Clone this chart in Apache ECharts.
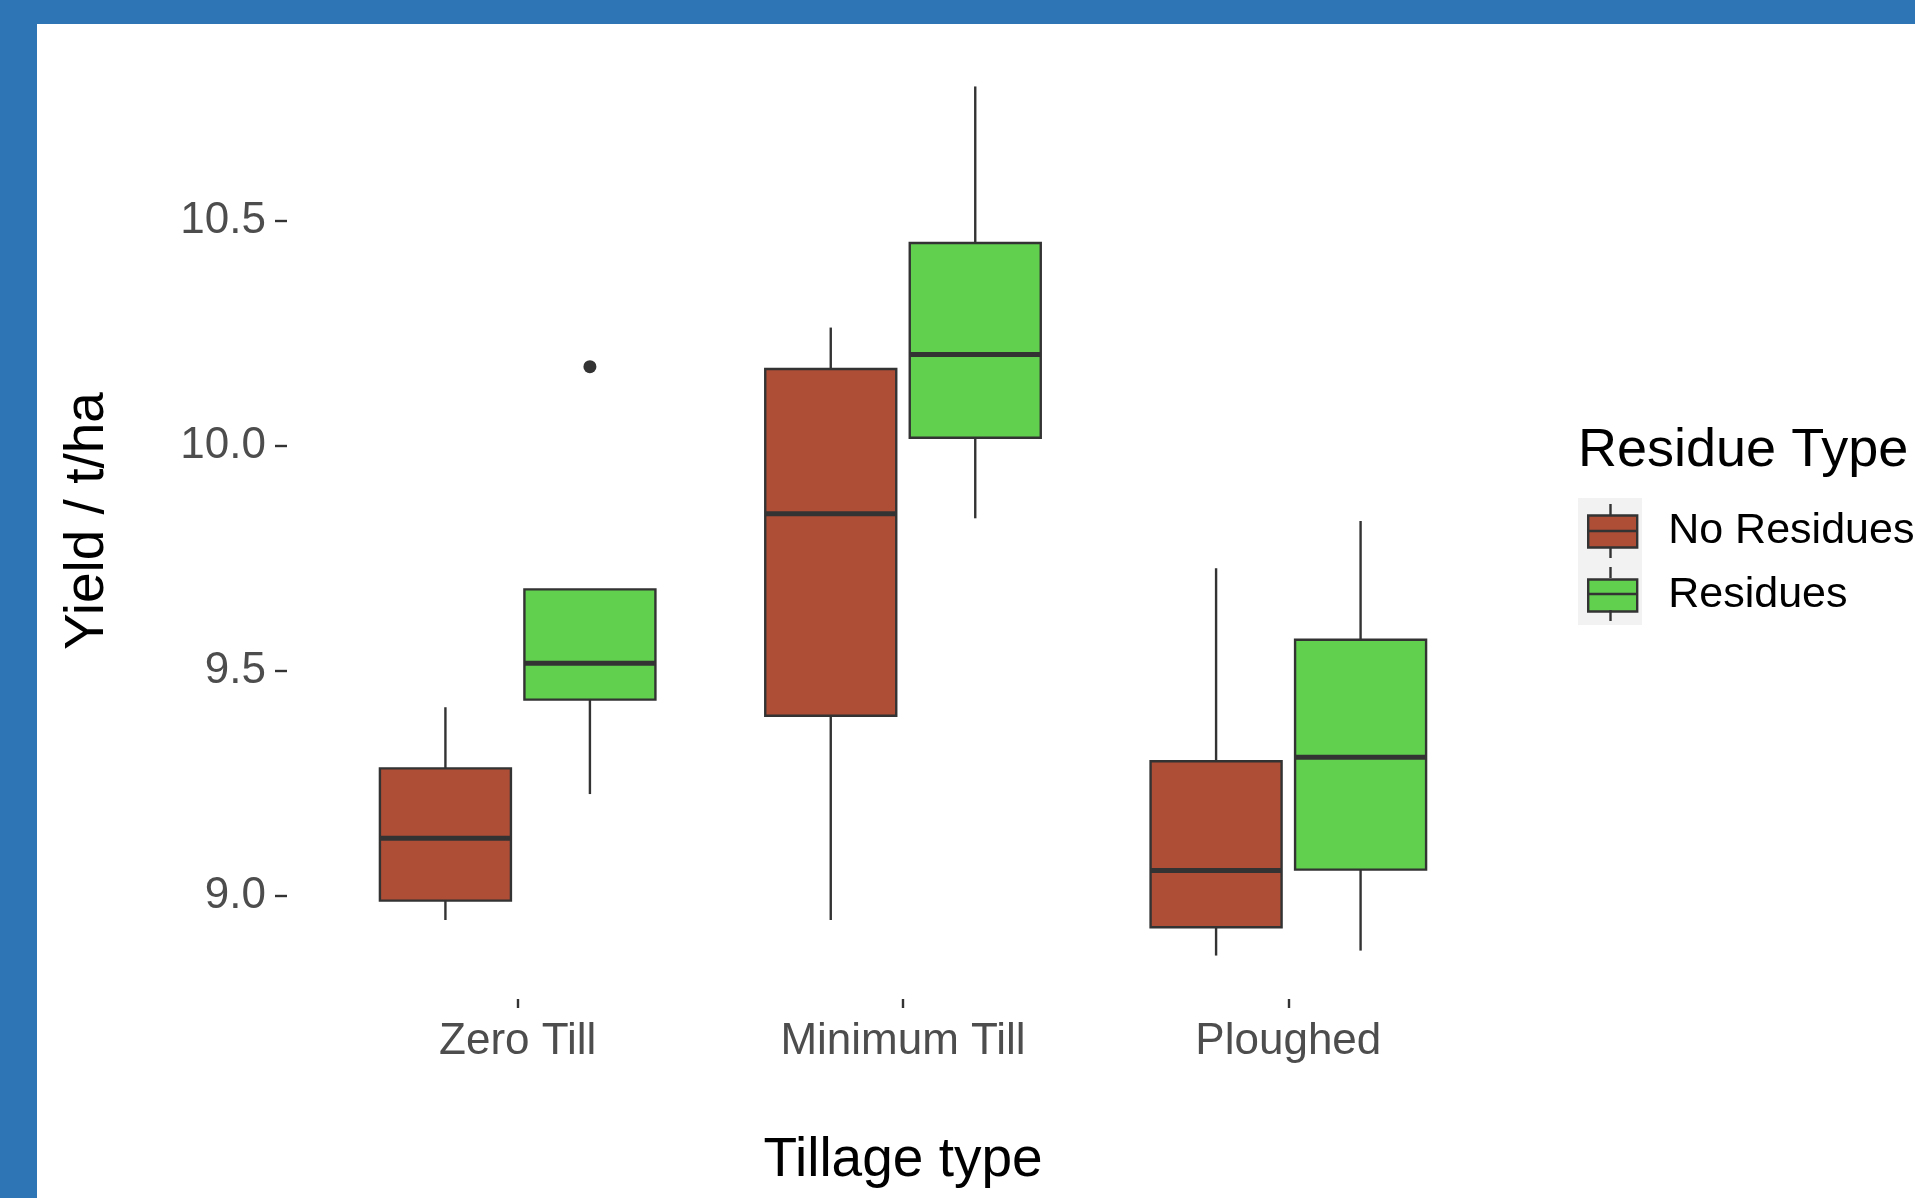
<!DOCTYPE html>
<html>
<head>
<meta charset="utf-8">
<script src="https://cdn.jsdelivr.net/npm/echarts@6/dist/echarts.min.js"></script>
<style>
  html, body { margin: 0; padding: 0; background: #ffffff; }
  #chart { width: 1915px; height: 1198px; }
</style>
</head>
<body>
<div id="chart"></div>
<script>
// Tillage treatments on the x axis
const categories = ['Zero Till', 'Minimum Till', 'Ploughed'];
const seriesNames = ['No Residues', 'Residues'];

// Five-number summaries per tillage type: [lower whisker, Q1, median, Q3, upper whisker]
const noResidues = [
  [8.946, 8.989, 9.128, 9.283, 9.419],
  [8.946, 9.400, 9.849, 10.171, 10.263],
  [8.867, 8.930, 9.056, 9.299, 9.728]
];
const residues = [
  [9.226, 9.436, 9.517, 9.681, 9.681],
  [9.839, 10.018, 10.203, 10.451, 10.799],
  [8.878, 9.058, 9.308, 9.569, 9.833]
];
// Outlying observations: [category index, yield]
const residueOutliers = [[0, 10.176]];

// Y axis tick positions
const yTicks = [9.0, 9.5, 10.0, 10.5];

const FONT = '"Liberation Sans", Arial, Helvetica, sans-serif';
const FILLS = ['#AF4E37', '#61D04F'];
const EDGE = '#333333';
const DODGE = 0.1875;   // box centre offset, as a fraction of the category band
const BOX = 0.34;       // box width, as a fraction of the category band

// y range padded by 5% of the data span on each side
const allValues = noResidues.flat().concat(residues.flat(), residueOutliers.map(o => o[1]));
const dataLo = Math.min.apply(null, allValues);
const dataHi = Math.max.apply(null, allValues);
const pad = 0.05 * (dataHi - dataLo);
const yMin = dataLo - pad;
const yMax = dataHi + pad;

function toRows(stats) {
  return stats.map((s, i) => [i].concat(s));
}

function segment(x1, y1, x2, y2, w) {
  return { type: 'line', shape: { x1, y1, x2, y2 }, style: { stroke: EDGE, lineWidth: w } };
}

function boxRenderer(side, fill) {
  return function (params, api) {
    const ci = api.value(0);
    const band = api.size([1, 0])[0];
    const cx = api.coord([ci, yMin])[0] + side * DODGE * band;
    const hw = BOX * band / 2;
    const y = k => api.coord([ci, api.value(k)])[1];
    const yLo = y(1), yQ1 = y(2), yMed = y(3), yQ3 = y(4), yHi = y(5);
    return {
      type: 'group',
      children: [
        segment(cx, yHi, cx, yQ3, 2.4),
        segment(cx, yQ1, cx, yLo, 2.4),
        {
          type: 'rect',
          shape: { x: cx - hw, y: yQ3, width: 2 * hw, height: yQ1 - yQ3 },
          style: { fill: fill, stroke: EDGE, lineWidth: 2.4 }
        },
        segment(cx - hw, yMed, cx + hw, yMed, 5)
      ]
    };
  };
}

function outlierRenderer(side) {
  return function (params, api) {
    const ci = api.value(0);
    const band = api.size([1, 0])[0];
    const p = api.coord([ci, api.value(1)]);
    return {
      type: 'circle',
      shape: { cx: p[0] + side * DODGE * band, cy: p[1], r: 6.5 },
      style: { fill: EDGE }
    };
  };
}

// Legend key glyph pieces (whiskers, medians, key background)
const KEY_X = 1610.5, KEY_L = 1587, KEY_R = 1636;
const keyTops = [515, 578];
const keyH = 32;
const legendGraphics = [
  { type: 'rect', z: 1, shape: { x: 1578, y: 498, width: 64, height: 127 }, style: { fill: '#F2F2F2' } }
];
keyTops.forEach(t => {
  legendGraphics.push(Object.assign(segment(KEY_X, t - 11, KEY_X, t, 2.4), { z: 10 }));
  legendGraphics.push(Object.assign(segment(KEY_X, t + keyH, KEY_X, t + keyH + 11, 2.4), { z: 10 }));
  legendGraphics.push(Object.assign(segment(KEY_L, t + keyH / 2, KEY_R, t + keyH / 2, 2.4), { z: 10 }));
});

const chart = echarts.init(document.getElementById('chart'), null, { renderer: 'canvas' });

chart.setOption({
  backgroundColor: '#ffffff',
  animation: false,
  textStyle: { fontFamily: FONT },
  title: {
    text: 'Residue Type',
    left: 1573,
    top: 419,
    textStyle: { fontFamily: FONT, fontSize: 54, fontWeight: 'normal', color: '#000000' }
  },
  legend: {
    orient: 'vertical',
    left: 1582,
    top: 505,
    itemWidth: 49,
    itemHeight: 32,
    itemGap: 21,
    icon: 'rect',
    selectedMode: false,
    data: seriesNames.map((n, i) => ({
      name: n,
      itemStyle: { color: FILLS[i], borderColor: EDGE, borderWidth: 2.4 }
    })),
    textStyle: {
      fontFamily: FONT, fontSize: 43, color: '#000000',
      padding: [0, 0, 0, 26]
    }
  },
  graphic: [
    { type: 'rect', z: 100, shape: { x: 0, y: 0, width: 1915, height: 24 }, style: { fill: '#2E75B6' } },
    { type: 'rect', z: 100, shape: { x: 0, y: 0, width: 37, height: 1198 }, style: { fill: '#2E75B6' } }
  ].concat(legendGraphics),
  grid: {
    left: 325,
    top: 43,
    width: 1156,
    height: 956,
    containLabel: false,
    outerBoundsMode: 'none'
  },
  xAxis: {
    type: 'category',
    data: categories,
    boundaryGap: true,
    axisLine: { show: false },
    axisTick: { show: true, alignWithLabel: true, length: 9, lineStyle: { color: EDGE, width: 2.4 } },
    axisLabel: { margin: 21, fontSize: 44, color: '#4D4D4D', fontFamily: FONT },
    splitLine: { show: false },
    name: 'Tillage type',
    nameLocation: 'middle',
    nameGap: 134,
    nameTextStyle: { fontSize: 55, color: '#000000', fontFamily: FONT }
  },
  yAxis: {
    type: 'value',
    min: yMin,
    max: yMax,
    offset: 38,
    axisLine: { show: false },
    splitLine: { show: false },
    axisTick: { show: true, length: 12, customValues: yTicks, lineStyle: { color: EDGE, width: 2.4 } },
    axisLabel: {
      customValues: yTicks,
      formatter: v => Number(v).toFixed(1),
      margin: 21, fontSize: 44, color: '#4D4D4D', fontFamily: FONT
    },
    name: 'Yield / t/ha',
    nameLocation: 'middle',
    nameGap: 172,
    nameTextStyle: { fontSize: 55, color: '#000000', fontFamily: FONT }
  },
  series: [
    {
      name: seriesNames[0],
      type: 'custom',
      coordinateSystem: 'cartesian2d',
      itemStyle: { color: FILLS[0] },
      encode: { x: 0, y: [1, 2, 3, 4, 5] },
      renderItem: boxRenderer(-1, FILLS[0]),
      data: toRows(noResidues)
    },
    {
      name: seriesNames[1],
      type: 'custom',
      coordinateSystem: 'cartesian2d',
      itemStyle: { color: FILLS[1] },
      encode: { x: 0, y: [1, 2, 3, 4, 5] },
      renderItem: boxRenderer(1, FILLS[1]),
      data: toRows(residues)
    },
    {
      name: seriesNames[1],
      type: 'custom',
      coordinateSystem: 'cartesian2d',
      itemStyle: { color: FILLS[1] },
      encode: { x: 0, y: 1 },
      renderItem: outlierRenderer(1),
      data: residueOutliers
    }
  ]
});
</script>
</body>
</html>
